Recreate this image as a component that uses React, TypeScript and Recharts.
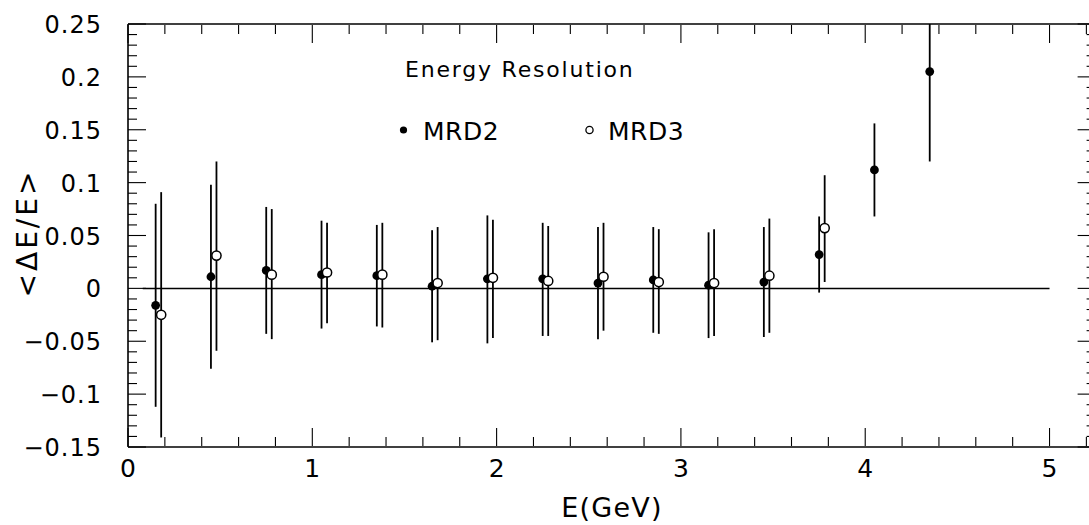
import React from 'react';
import { ScatterChart, Scatter, XAxis, YAxis, ErrorBar, ReferenceLine } from 'recharts';

// ---- data ----
const mrd2E = [0.15, 0.45, 0.75, 1.05, 1.35, 1.65, 1.95, 2.25, 2.55, 2.85, 3.15, 3.45, 3.75, 4.05, 4.35];
const mrd2Val = [-0.016, 0.011, 0.017, 0.013, 0.012, 0.002, 0.009, 0.009, 0.005, 0.008, 0.003, 0.006, 0.032, 0.112, 0.205];
const mrd2Hi = [0.080, 0.098, 0.077, 0.064, 0.060, 0.055, 0.069, 0.062, 0.058, 0.058, 0.053, 0.058, 0.068, 0.156, 0.25];
const mrd2Lo = [-0.112, -0.076, -0.043, -0.038, -0.036, -0.051, -0.052, -0.045, -0.048, -0.042, -0.047, -0.046, -0.004, 0.068, 0.120];

const mrd3E = [0.18, 0.48, 0.78, 1.08, 1.38, 1.68, 1.98, 2.28, 2.58, 2.88, 3.18, 3.48, 3.78];
const mrd3Val = [-0.025, 0.031, 0.013, 0.015, 0.013, 0.005, 0.010, 0.007, 0.011, 0.006, 0.005, 0.012, 0.057];
const mrd3Hi = [0.091, 0.120, 0.075, 0.062, 0.062, 0.058, 0.065, 0.059, 0.062, 0.056, 0.056, 0.066, 0.107];
const mrd3Lo = [-0.141, -0.059, -0.048, -0.033, -0.037, -0.049, -0.047, -0.045, -0.040, -0.043, -0.045, -0.042, 0.006];

const xMajorTicks = [0, 1, 2, 3, 4, 5];
const xTickLabels = ['0', '1', '2', '3', '4', '5'];
const yMajorTicks = [-0.15, -0.1, -0.05, 0, 0.05, 0.1, 0.15, 0.2, 0.25];
const yTickLabels = ['\u22120.15', '\u22120.1', '\u22120.05', '0', '0.05', '0.1', '0.15', '0.2', '0.25'];

const xMinorTicks = Array.from({ length: 27 }, (_, i) => Math.round(i * 2) / 10);
const yMinorTicks = Array.from({ length: 41 }, (_, i) => Math.round(-15 + i) / 100);

const X_DOMAIN: [number, number] = [0, 5.25];
const Y_DOMAIN: [number, number] = [-0.15, 0.25];

const toRows = (xs: number[], vs: number[], lo: number[], hi: number[]) =>
  xs.map((x, i) => ({ x, y: vs[i], err: [vs[i] - lo[i], hi[i] - vs[i]] }));

const mrd2Data = toRows(mrd2E, mrd2Val, mrd2Lo, mrd2Hi);
const mrd3Data = toRows(mrd3E, mrd3Val, mrd3Lo, mrd3Hi);

const FONT = "'DejaVu Sans', sans-serif";
const MAJOR = 18;
const MINOR = 9;
const TICK_W = 1.1;

const findLabel = (ticks: number[], labels: string[], v: number) => {
  const i = ticks.findIndex((t) => Math.abs(t - v) < 1e-9);
  return i >= 0 ? labels[i] : null;
};

// bottom axis: tick anchor sits 1px below the axis line (axis height = 1)
const BottomTick = (props: any) => {
  const { x, payload } = props;
  const y = props.y - 1;
  const label = findLabel(xMajorTicks, xTickLabels, payload.value);
  const len = label !== null ? MAJOR : MINOR;
  return (
    <g>
      <line x1={x} y1={y} x2={x} y2={y - len} stroke="#000" strokeWidth={TICK_W} />
      {label !== null && (
        <text x={x} y={y + 31} textAnchor="middle" fontFamily={FONT} fontSize={25} fill="#000">
          {label}
        </text>
      )}
    </g>
  );
};

// top axis: tick anchor sits 1px above the axis line
const TopTick = (props: any) => {
  const { x, payload } = props;
  const y = props.y + 1;
  const label = findLabel(xMajorTicks, xTickLabels, payload.value);
  const len = label !== null ? MAJOR : MINOR;
  return <line x1={x} y1={y} x2={x} y2={y + len} stroke="#000" strokeWidth={TICK_W} />;
};

const LeftTick = (props: any) => {
  const { x, y, payload } = props;
  const label = findLabel(yMajorTicks, yTickLabels, payload.value);
  const len = label !== null ? MAJOR : MINOR;
  return (
    <g>
      <line x1={x} y1={y} x2={x + len} y2={y} stroke="#000" strokeWidth={TICK_W} />
      {label !== null && (
        <text x={x - 26} y={y + 9} textAnchor="end" fontFamily={FONT} fontSize={24} letterSpacing={1} fill="#000">
          {label}
        </text>
      )}
    </g>
  );
};

const RightTick = (props: any) => {
  const { x, y, payload } = props;
  const label = findLabel(yMajorTicks, yTickLabels, payload.value);
  const len = label !== null ? MAJOR : MINOR;
  return <line x1={x} y1={y} x2={x - len} y2={y} stroke="#000" strokeWidth={TICK_W} />;
};

const FilledDot = (props: any) => <circle cx={props.cx} cy={props.cy} r={4.4} fill="#000" />;
const OpenDot = (props: any) => (
  <circle cx={props.cx} cy={props.cy} r={4.6} fill="#fff" stroke="#000" strokeWidth={1.5} />
);
const NoDot = () => <g />;

const axisLine = { stroke: '#000', strokeWidth: 1.6 };

export default function App() {
  return (
    <div style={{ position: 'absolute', left: 0, top: 0, width: 1089, height: 525, overflow: 'hidden', background: '#fff' }}>
      <ScatterChart
        width={1100}
        height={525}
        margin={{ top: 23, left: 127, right: 3.4, bottom: 77 }}
      >
        <XAxis
          xAxisId={0}
          type="number"
          dataKey="x"
          domain={X_DOMAIN}
          allowDataOverflow
          ticks={xMinorTicks}
          interval={0}
          height={1}
          tickSize={0}
          tickMargin={0}
          tickLine={false}
          axisLine={axisLine}
          tick={<BottomTick />}
        />
        <XAxis
          xAxisId="top"
          orientation="top"
          type="number"
          dataKey="x"
          domain={X_DOMAIN}
          allowDataOverflow
          ticks={xMinorTicks}
          interval={0}
          height={1}
          tickSize={0}
          tickMargin={0}
          tickLine={false}
          axisLine={axisLine}
          tick={<TopTick />}
        />
        <YAxis
          yAxisId={0}
          type="number"
          dataKey="y"
          domain={Y_DOMAIN}
          allowDataOverflow
          ticks={yMinorTicks}
          interval={0}
          width={1}
          tickSize={0}
          tickMargin={0}
          tickLine={false}
          axisLine={axisLine}
          tick={<LeftTick />}
        />
        <YAxis
          yAxisId="right"
          orientation="right"
          type="number"
          dataKey="y"
          domain={Y_DOMAIN}
          allowDataOverflow
          ticks={yMinorTicks}
          interval={0}
          width={1}
          tickSize={0}
          tickMargin={0}
          tickLine={false}
          axisLine={axisLine}
          tick={<RightTick />}
        />
        <ReferenceLine
          xAxisId={0}
          yAxisId={0}
          segment={[{ x: 0.08, y: 0 }, { x: 5, y: 0 }]}
          stroke="#000"
          strokeWidth={1.5}
        />
        <Scatter name="MRD2" data={mrd2Data} xAxisId={0} yAxisId={0} shape={<FilledDot />} isAnimationActive={false}>
          <ErrorBar dataKey="err" direction="y" width={0} stroke="#000" strokeWidth={1.8} isAnimationActive={false} />
        </Scatter>
        <Scatter name="MRD3" data={mrd3Data} xAxisId={0} yAxisId={0} shape={<OpenDot />} isAnimationActive={false}>
          <ErrorBar dataKey="err" direction="y" width={0} stroke="#000" strokeWidth={1.8} isAnimationActive={false} />
        </Scatter>
        <Scatter name="frame" data={mrd2Data} xAxisId="top" yAxisId="right" shape={<NoDot />} isAnimationActive={false} />
      </ScatterChart>
      <svg
        width={1089}
        height={525}
        style={{ position: 'absolute', left: 0, top: 0, pointerEvents: 'none' }}
      >
        <text x={405} y={77} fontFamily={FONT} fontSize={22} letterSpacing={1.8} fill="#000">
          Energy Resolution
        </text>
        <circle cx={403.5} cy={130} r={3.6} fill="#000" />
        <text x={423} y={140} fontFamily={FONT} fontSize={25} letterSpacing={0.5} fill="#000">
          MRD2
        </text>
        <circle cx={589.5} cy={130} r={3.6} fill="#fff" stroke="#000" strokeWidth={1.3} />
        <text x={608} y={140} fontFamily={FONT} fontSize={25} letterSpacing={0.5} fill="#000">
          MRD3
        </text>
        <text x={612} y={517} textAnchor="middle" fontFamily={FONT} fontSize={27} letterSpacing={1.2} fill="#000">
          E(GeV)
        </text>
        <text
          x={0}
          y={0}
          transform="translate(37,233) rotate(-90)"
          textAnchor="middle"
          fontFamily={FONT}
          fontSize={28}
          letterSpacing={3}
          fill="#000"
        >
          {'<\u0394E/E>'}
        </text>
      </svg>
    </div>
  );
}
